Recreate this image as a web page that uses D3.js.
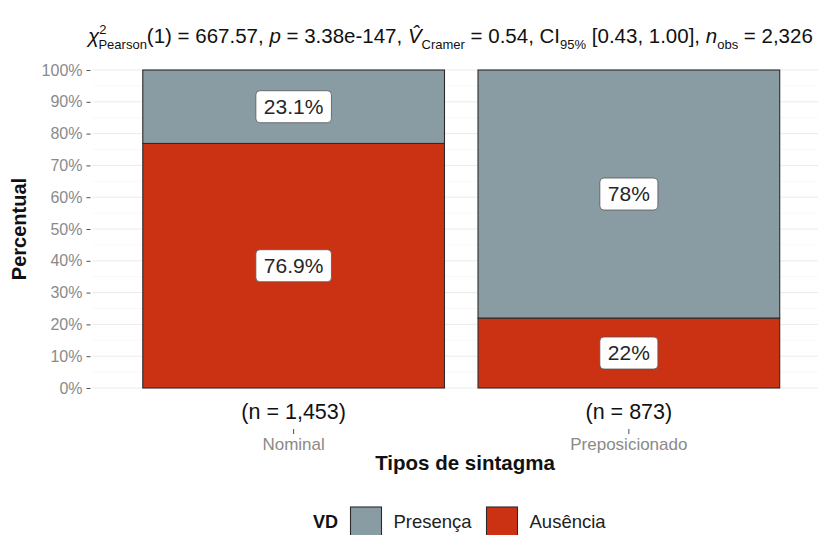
<!DOCTYPE html>
<html>
<head>
<meta charset="utf-8">
<script src="https://cdn.jsdelivr.net/npm/d3@7"></script>
<style>
  html, body { margin: 0; padding: 0; background: #fff; }
  svg { display: block; font-family: "Liberation Sans", Arial, Helvetica, sans-serif; }
</style>
</head>
<body>
<svg id="chart" width="818" height="535"></svg>
<script>
// Categories and sample sizes
const categories = ["Nominal", "Preposicionado"];
const sampleSizes = ["(n = 1,453)", "(n = 873)"];

// Series (percent of each category)
const seriesNames = ["Presença", "Ausência"];
const presenca = [23.1, 78];
const ausencia = [76.9, 22];

// Axis ticks
const yTicks = [0, 10, 20, 30, 40, 50, 60, 70, 80, 90, 100];

const colors = { "Presença": "#899BA3", "Ausência": "#CB3214" };

const svg = d3.select("#chart");
const W = 818, H = 535;

// Panel geometry
const panel = { left: 92.5, right: 830, top: 70, bottom: 388 };

const x = d3.scaleBand()
  .domain(categories)
  .range([panel.left, panel.right])
  .paddingInner(0.1)
  .paddingOuter(0.15);

const y = d3.scaleLinear()
  .domain([0, 100])
  .range([panel.bottom, panel.top]);

// Gridlines: minor then major
const minor = d3.range(5, 100, 10);
svg.append("g").selectAll("line").data(minor).join("line")
  .attr("x1", panel.left).attr("x2", W)
  .attr("y1", d => y(d)).attr("y2", d => y(d))
  .attr("stroke", "#f3f3f3").attr("stroke-width", 0.6);
svg.append("g").selectAll("line").data(yTicks).join("line")
  .attr("x1", panel.left).attr("x2", W)
  .attr("y1", d => y(d)).attr("y2", d => y(d))
  .attr("stroke", "#ebebeb").attr("stroke-width", 1);

// Y axis
const yAxis = d3.axisLeft(y).tickValues(yTicks).tickFormat(d => d + "%").tickSize(4).tickPadding(4);
const gy = svg.append("g").attr("transform", `translate(${panel.left - 2},0)`).call(yAxis);
gy.select(".domain").remove();
gy.selectAll(".tick line").attr("stroke", "#4d4d4d");
gy.selectAll(".tick text").attr("fill", "#8a8a8a").attr("font-size", 16)
  .attr("font-family", "Liberation Sans, Arial, sans-serif");

// Stacked data: Ausência at bottom, Presença on top
const rows = categories.map((c, i) => ({ cat: c, "Ausência": ausencia[i], "Presença": presenca[i] }));
const stack = d3.stack().keys(["Ausência", "Presença"]);
const layers = stack(rows);

svg.append("g").selectAll("g").data(layers).join("g")
  .attr("fill", d => colors[d.key])
  .selectAll("rect").data(d => d).join("rect")
  .attr("x", d => x(d.data.cat))
  .attr("width", x.bandwidth())
  .attr("y", d => y(d[1]))
  .attr("height", d => y(d[0]) - y(d[1]))
  .attr("stroke", "#2b2b2b").attr("stroke-width", 1.1);

// Value labels
const fmt = v => v + "%";
const labelG = svg.append("g");
layers.forEach(layer => {
  layer.forEach(d => {
    const cx = x(d.data.cat) + x.bandwidth() / 2;
    const cy = (y(d[0]) + y(d[1])) / 2;
    const g = labelG.append("g").attr("transform", `translate(${cx},${cy})`);
    const t = g.append("text")
      .attr("text-anchor", "middle").attr("dy", "0.35em")
      .attr("font-size", 21).attr("fill", "#262626")
      .text(fmt(d.data[layer.key]));
    const w = t.node().getComputedTextLength();
    g.insert("rect", "text")
      .attr("x", -w / 2 - 8).attr("y", -16)
      .attr("width", w + 16).attr("height", 32)
      .attr("rx", 4).attr("ry", 4)
      .attr("fill", "#fff").attr("stroke", "#555").attr("stroke-width", 0.8);
  });
});

// Sample size labels under the bars
svg.append("g").selectAll("text").data(categories).join("text")
  .attr("x", d => x(d) + x.bandwidth() / 2)
  .attr("y", 419)
  .attr("text-anchor", "middle").attr("font-size", 21.5).attr("fill", "#111")
  .text((d, i) => sampleSizes[i]);

// X axis ticks and labels
svg.append("g").selectAll("line").data(categories).join("line")
  .attr("x1", d => x(d) + x.bandwidth() / 2).attr("x2", d => x(d) + x.bandwidth() / 2)
  .attr("y1", 429).attr("y2", 434)
  .attr("stroke", "#4d4d4d");
svg.append("g").selectAll("text").data(categories).join("text")
  .attr("x", d => x(d) + x.bandwidth() / 2)
  .attr("y", 450)
  .attr("text-anchor", "middle").attr("font-size", 17).attr("fill", "#8a8a8a")
  .text(d => d);

// Axis titles
svg.append("text")
  .attr("x", 465).attr("y", 470)
  .attr("text-anchor", "middle").attr("font-size", 20.5).attr("font-weight", "bold").attr("fill", "#111")
  .text("Tipos de sintagma");
svg.append("text")
  .attr("transform", `translate(26,${(panel.top + panel.bottom) / 2}) rotate(-90)`)
  .attr("text-anchor", "middle").attr("font-size", 20).attr("font-weight", "bold").attr("fill", "#111")
  .text("Percentual");

// Statistical subtitle
const title = svg.append("text").attr("x", 88).attr("y", 43).attr("font-size", 20.5).attr("fill", "#111");
const parts = [
  { t: "χ", style: "italic" },
  { t: "2", sup: true },
  { t: "Pearson", sub: true, back: true },
  { t: "(1) = 667.57, " },
  { t: "p", style: "italic" },
  { t: " = 3.38e-147, " },
  { t: "V\u0302", style: "italic" },
  { t: "Cramer", sub: true },
  { t: " = 0.54, CI" },
  { t: "95%", sub: true },
  { t: " [0.43, 1.00], " },
  { t: "n", style: "italic" },
  { t: "obs", sub: true },
  { t: " = 2,326" }
];
parts.forEach((p, i) => {
  const ts = title.append("tspan").text(p.t);
  if (p.style) ts.attr("font-style", p.style);
  if (p.sup) { ts.attr("font-size", 13).attr("dy", -9); }
  else if (p.sub) {
    ts.attr("font-size", 13);
    const prev = parts[i - 1];
    ts.attr("dy", prev && prev.sup ? 15 : 6);
  } else {
    const prev = parts[i - 1];
    if (prev && prev.sub) ts.attr("dy", -6);
  }
  if (p.back) {
    // tuck the subscript under the superscript
    ts.attr("dx", -8);
  }
});

// Legend
const legend = svg.append("g");
legend.append("text").attr("x", 313).attr("y", 528)
  .attr("font-size", 18).attr("font-weight", "bold").attr("fill", "#111").text("VD");
const keyX = [350.5, 486.5];
seriesNames.forEach((s, i) => {
  legend.append("rect")
    .attr("x", keyX[i]).attr("y", 507).attr("width", 31).attr("height", 34)
    .attr("fill", colors[s]).attr("stroke", "#2b2b2b").attr("stroke-width", 1.1);
  legend.append("text")
    .attr("x", keyX[i] + 43).attr("y", 528)
    .attr("font-size", 18.5).attr("fill", "#222").text(s);
});
</script>
</body>
</html>
